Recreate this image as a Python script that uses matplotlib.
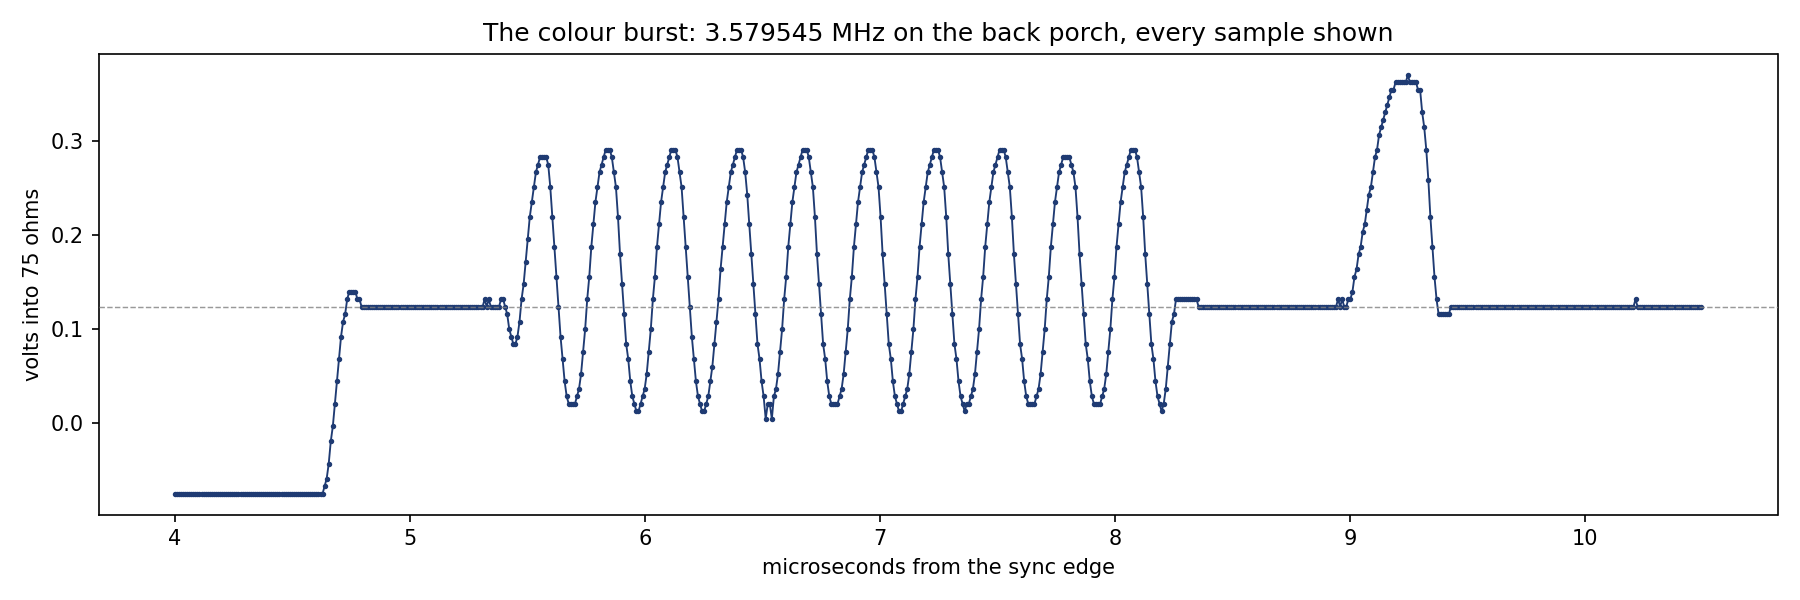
import numpy as np
import matplotlib
matplotlib.use("Agg")
import matplotlib.pyplot as plt

# sampling: 32 samples per colour-subcarrier cycle
FSC = 3.579545          # MHz
FS = 32 * FSC           # samples per microsecond
T0 = 4.0                # first sample, us after sync edge

# DAC levels (volts)
BLANK = 0.1234
LSB = 0.00796

# sample codes, in LSB steps relative to blanking level
sync_len = 73
sync_code = -25
sync_rise = [-24, -23, -21, -18, -16, -13, -10, -7, -4, -2, -1, 1, 2, 2, 2, 2, 1, 1]
porch1_len = 60
porch_blips = [1, 0, 1, 0, 0, 0, 0, 0, 1, 1]
burst_lead = [0, -1, -3, -4, -5, -5, -4, -2, 1, 3, 6, 9, 12, 14, 16, 18, 19]

burst_cycles = [
    [20, 20, 20, 20, 19, 16, 12, 8, 4, 0, -4, -7, -10, -12, -13, -13, -13, -13,
     -12, -11, -9, -6, -3, 1, 4, 8, 11, 14, 16, 18, 19, 20],
    [21, 21, 21, 20, 18, 16, 12, 7, 3, -1, -5, -7, -10, -12, -13, -14, -14, -13,
     -12, -11, -9, -6, -3, 1, 4, 8, 11, 14, 16, 18, 19, 20],
    [21, 21, 21, 20, 18, 16, 12, 8, 4, 0, -4, -7, -10, -12, -13, -14, -14, -13,
     -12, -10, -8, -5, -2, 1, 5, 8, 11, 14, 16, 18, 19, 20],
    [21, 21, 21, 20, 18, 15, 11, 7, 3, -1, -5, -7, -10, -12, -15, -13, -13, -15,
     -12, -11, -9, -6, -3, 1, 4, 8, 11, 14, 16, 18, 19, 20],
    [21, 21, 21, 20, 18, 16, 12, 7, 3, -1, -5, -7, -10, -12, -13, -13, -13, -13,
     -12, -11, -9, -6, -3, 1, 4, 8, 11, 14, 16, 18, 19, 20],
    [21, 21, 21, 20, 18, 16, 12, 7, 3, -1, -5, -7, -10, -12, -13, -14, -14, -13,
     -12, -11, -9, -6, -3, 1, 4, 8, 11, 14, 16, 18, 19, 20],
    [21, 21, 21, 20, 18, 16, 12, 7, 3, -1, -5, -7, -10, -12, -13, -14, -13, -13,
     -12, -11, -9, -6, -3, 1, 4, 8, 11, 14, 16, 18, 19, 20],
    [21, 21, 21, 20, 18, 16, 12, 7, 3, -1, -5, -7, -10, -12, -13, -13, -13, -13,
     -12, -11, -9, -6, -3, 1, 4, 8, 11, 14, 16, 18, 19, 20],
    [20, 20, 20, 19, 18, 16, 12, 7, 3, -1, -5, -7, -10, -12, -13, -13, -13, -13,
     -12, -11, -9, -6, -3, 1, 4, 8, 11, 14, 16, 18, 19, 20],
]
burst_last = [21, 21, 21, 20, 18, 16, 12, 7, 3, -1, -5, -7, -10, -12, -13, -14, -13]
burst_tail = [-11, -8, -5, -2, -1] + [1] * 11

porch2_len = 68
bump = ([1, 0, 1, 0, 0]
        + [1, 1, 2, 4, 5, 7, 8, 10, 11, 13, 15, 16, 18, 20, 21, 23, 24, 25, 26, 27,
           28, 29, 29, 30, 30]
        + [30, 30, 30, 30, 31, 30, 30, 30, 30]
        + [29, 29, 26, 24, 21, 17, 12, 8, 4, 1]
        + [-1] * 6)
porch3_len = 90
late_blip = [1]
porch4_len = 32

codes = ([sync_code] * sync_len + sync_rise + [0] * porch1_len + porch_blips
         + burst_lead + sum(burst_cycles, []) + burst_last + burst_tail
         + [0] * porch2_len + bump + [0] * porch3_len + late_blip + [0] * porch4_len)
codes = np.array(codes)

t = T0 + np.arange(len(codes)) / FS
volts = BLANK + LSB * codes

fig, ax = plt.subplots(figsize=(12, 4), dpi=150)
ax.plot(t, volts, '-o', color='#1f3b73', lw=0.9, ms=1.6)
ax.axhline(BLANK, color='grey', lw=0.7, ls='--', alpha=0.8, zorder=3)
ax.set_title('The colour burst: 3.579545 MHz on the back porch, every sample shown')
ax.set_xlabel('microseconds from the sync edge')
ax.set_ylabel('volts into 75 ohms')
ax.set_yticks([0.0, 0.1, 0.2, 0.3])
fig.tight_layout()
fig.savefig('out.png')
